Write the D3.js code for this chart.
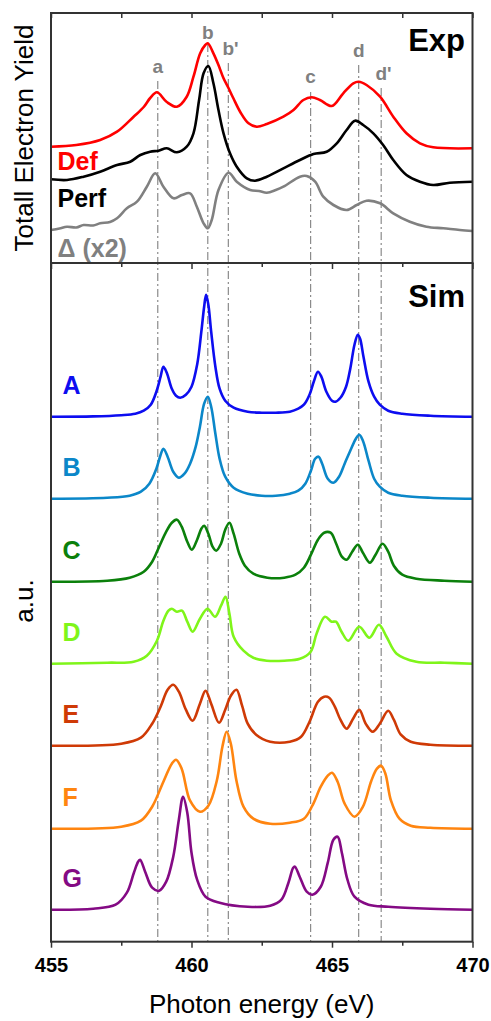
<!DOCTYPE html>
<html>
<head>
<meta charset="utf-8">
<script src="https://cdn.jsdelivr.net/npm/d3@7"></script>
<style>
  body { margin: 0; background: #fff; }
  text { font-family: Arial, "Liberation Sans", sans-serif; }
</style>
</head>
<body>
<svg id="chart" width="491" height="1021"></svg>
<script>
/**
 * Data: [photon energy (eV), intensity (a.u.)]
 */
const expDef = [[455,116.3],[455.9,118],[456.75,123],[457.35,131.3],[457.94,146.3],[458.3,156],[458.53,165],[458.77,170.7],[459.12,161],[459.48,156.3],[459.83,166.3],[460.07,186.3],[460.31,209.7],[460.49,218],[460.58,219.7],[460.78,209.7],[460.96,198],[461.14,184.7],[461.32,174.7],[461.49,164.7],[461.73,151.3],[462.03,139.7],[462.32,136.3],[462.68,139],[463.27,146.3],[463.63,153],[463.98,163],[464.28,165.7],[464.57,163],[464.99,157],[465.4,169.7],[465.76,179.7],[465.95,181.3],[466.23,178],[466.71,166.3],[467.18,146.3],[467.65,129.7],[468.13,119.7],[468.6,115.7],[470,114.7]];

const expPerf = [[455,83.7],[455.57,83],[456.16,86.3],[456.75,91.3],[457.35,98],[457.82,101.3],[458.18,108],[458.53,111.3],[458.83,112.3],[459.12,114.7],[459.48,110.7],[459.83,116.3],[460.07,129.7],[460.27,163],[460.43,189.7],[460.6,197],[460.78,179.7],[460.96,153],[461.14,129.7],[461.37,109.7],[461.61,96.3],[461.97,84.7],[462.26,82.3],[462.68,86.3],[463.27,94.7],[463.86,103],[464.34,109],[464.81,111.3],[465.17,119.7],[465.52,133],[465.82,142.3],[466.11,138],[466.47,129.7],[466.82,118],[467.18,103],[467.65,88],[468.13,81.3],[468.6,78],[469.19,80.3],[470,81.3]];

const expDiff = [[455,33],[455.3,34.5],[455.57,36.3],[455.9,35.5],[456.16,38],[456.5,37.5],[456.75,39.7],[457.1,41],[457.35,44.7],[457.7,54.7],[458.06,61.3],[458.41,76.3],[458.71,89.7],[459.0,76.3],[459.36,64.7],[459.66,68],[459.95,69.7],[460.19,56.3],[460.43,39.7],[460.58,34.7],[460.72,43],[460.96,73],[461.32,90.3],[461.61,81.3],[462.09,73],[462.4,72],[462.68,70.3],[463.0,73],[463.27,76.3],[463.86,86.3],[464.1,87],[464.4,81.3],[464.69,66.3],[465.05,58],[465.52,53],[465.88,58],[466.23,62.3],[466.71,59.7],[467.18,49.7],[467.77,41.3],[468.36,36.3],[468.96,34.7],[469.55,33],[470,32]];

const simA = [[455,0],[456.5,0.3],[457.5,1.5],[458,3],[458.3,6],[458.55,12],[458.75,25],[458.9,40],[459,50],[459.12,44],[459.3,28],[459.45,21],[459.6,19],[459.8,22],[460,30],[460.2,52],[460.35,85],[460.45,110],[460.52,122],[460.6,112],[460.7,85],[460.85,50],[461,28],[461.2,16],[461.5,9],[462,5],[462.5,4],[463,4],[463.5,5],[463.8,8],[464,12],[464.2,22],[464.35,35],[464.5,45],[464.62,40],[464.8,25],[465,16],[465.12,15],[465.3,19],[465.5,30],[465.65,48],[465.8,72],[465.92,82],[466,78],[466.12,60],[466.3,35],[466.5,20],[466.7,12],[467,6],[467.5,3],[468.5,1],[470,0]];

const simB = [[455,0],[457,1],[457.8,3],[458.2,7],[458.5,15],[458.75,30],[458.88,42],[459,50],[459.15,42],[459.35,27],[459.55,21],[459.75,25],[459.95,35],[460.15,52],[460.3,72],[460.45,95],[460.58,102],[460.7,92],[460.85,65],[461,40],[461.2,22],[461.5,11],[462,5],[462.5,3],[463,3],[463.5,5],[463.8,8],[464.05,15],[464.25,28],[464.4,40],[464.52,42],[464.65,35],[464.85,20],[465.05,16],[465.25,22],[465.45,35],[465.65,48],[465.85,60],[465.97,64],[466.1,58],[466.3,38],[466.5,20],[466.7,12],[467,6],[467.5,3],[468.5,1],[470,0]];

const simC = [[455,0],[457,1],[457.8,4],[458.3,10],[458.6,20],[458.85,35],[459.1,50],[459.3,59],[459.48,62],[459.65,55],[459.85,40],[460.01,32],[460.2,42],[460.35,53],[460.45,56],[460.6,48],[460.75,35],[460.88,31],[461.05,38],[461.2,52],[461.35,59],[461.5,48],[461.7,28],[461.9,16],[462.2,8],[462.7,4],[463.3,4],[463.7,7],[464,14],[464.25,27],[464.5,42],[464.72,49],[464.95,49],[465.15,38],[465.35,25],[465.52,22],[465.72,30],[465.92,37],[466.1,29],[466.35,19],[466.55,27],[466.8,38],[467,30],[467.2,16],[467.5,7],[468,3],[469,1],[470,0]];

const simD = [[455,0],[457,1],[457.94,2],[458.41,8],[458.77,23],[459,43],[459.18,53],[459.3,55],[459.48,52],[459.66,53],[459.85,42],[460.04,32],[460.3,45],[460.57,55],[460.84,47],[461.05,58],[461.21,67],[461.35,50],[461.5,27],[461.85,13],[462.2,6],[462.68,3],[463.3,3],[463.86,5],[464.24,12],[464.45,30],[464.75,47],[464.99,42],[465.14,42],[465.34,32],[465.58,23],[465.97,37],[466.33,26],[466.67,39],[466.94,27],[467.3,10],[468,2],[469,1],[470,0]];

const simE = [[455,0],[457.5,2],[458.2,8],[458.6,22],[458.9,39],[459.15,56],[459.35,61],[459.55,54],[459.8,36],[460.04,25],[460.3,42],[460.5,55],[460.7,42],[460.98,23],[461.2,36],[461.4,50],[461.6,56],[461.8,40],[462,22],[462.3,11],[462.8,4],[463.5,4],[463.9,9],[464.2,24],[464.5,44],[464.72,49],[464.9,48],[465.1,39],[465.3,26],[465.52,17],[465.75,27],[465.97,36],[466.2,22],[466.45,14],[466.7,22],[467,35],[467.2,26],[467.45,11],[467.8,4],[468.5,1],[470,0]];

const simF = [[455,0],[457.5,2],[458.2,8],[458.6,22],[459,47],[459.3,65],[459.45,69],[459.65,60],[459.95,28],[460.3,17],[460.6,23],[460.9,48],[461.1,82],[461.25,97],[461.4,85],[461.6,48],[461.85,22],[462.2,10],[462.8,5],[463.5,6],[464,10],[464.3,23],[464.6,42],[464.85,53],[465,56],[465.2,47],[465.45,25],[465.8,12],[466.1,22],[466.4,48],[466.6,60],[466.75,63],[466.9,55],[467.1,28],[467.4,10],[467.8,3],[468.5,1],[470,0]];

const simG = [[455,0],[456.5,1],[457.3,5],[457.7,17],[457.95,37],[458.1,48],[458.17,50],[458.35,38],[458.6,22],[458.85,19],[459.1,28],[459.35,53],[459.55,90],[459.7,113],[459.85,97],[460,57],[460.2,30],[460.5,13],[461,7],[462,3],[462.8,4],[463.2,10],[463.45,27],[463.62,42],[463.68,43],[463.85,33],[464.1,18],[464.3,15],[464.6,23],[464.85,47],[465.05,70],[465.2,73],[465.35,57],[465.55,30],[465.8,13],[466.3,5],[467,3],[468.5,1],[470,0]];

const simNames = ["A", "B", "C", "D", "E", "F", "G"];
const simOffsets = [525, 443, 360, 278, 196, 113, 32];
const simColors = ["#0d0df0", "#0b87c9", "#0b800b", "#7ff51a", "#cf3a06", "#ff8510", "#840a84"];

const featureNames = ["a", "b", "b'", "c", "d", "d'"];
const featureEnergies = [458.8, 460.58, 461.31, 464.24, 465.95, 466.75];

const xTicks = [455, 460, 465, 470];
const xMinorTicks = [457.5, 462.5, 467.5];

/**
 * Layout
 */
const svg = d3.select("#chart");
const left = 51, right = 472.5;
const topY = 13, midY = 263, botY = 941.7;

let x = d3.scaleLinear().domain([455, 470]).range([left, right]);
let yTop = d3.scaleLinear().domain([0, 250]).range([midY, topY]);
let yBot = d3.scaleLinear().domain([0, botY - midY]).range([botY, midY]);

// label baselines for the feature letters (px) and where each guide line starts
const featureLabelY = [73, 39, 55, 83, 57, 80];
const featureLineTop = [81, 44, 63, 92, 65, 88];

// dash-dot guide lines
featureEnergies.forEach((e, i) => {
    svg.append("line")
        .attr("x1", x(e)).attr("x2", x(e))
        .attr("y1", featureLineTop[i]).attr("y2", botY)
        .attr("stroke", "#808080")
        .attr("stroke-width", 1.1)
        .attr("stroke-dasharray", "8,3,2,3");
    let isPrime = featureNames[i].length > 1;
    svg.append("text")
        .attr("x", isPrime ? x(e) - 5.8 : x(e))
        .attr("y", featureLabelY[i])
        .attr("text-anchor", isPrime ? "start" : "middle")
        .attr("font-size", 19)
        .attr("font-weight", "bold")
        .attr("fill", "#808080")
        .text(featureNames[i]);
});

// smooth curve through the read points
const smooth = d3.curveCatmullRom.alpha(0.5);

// experimental spectra
const lineTop = d3.line()
    .x(d => x(d[0]))
    .y(d => yTop(d[1]))
    .curve(smooth);

[[expDef, "#ff0000"], [expPerf, "#000000"], [expDiff, "#808080"]].forEach(([data, color]) => {
    svg.append("path")
        .datum(data)
        .attr("fill", "none")
        .attr("stroke", color)
        .attr("stroke-width", 2.6)
        .attr("stroke-linejoin", "round")
        .attr("d", lineTop);
});

// simulated spectra, stacked
const simSeries = [simA, simB, simC, simD, simE, simF, simG];
simSeries.forEach((data, i) => {
    let off = simOffsets[i];
    svg.append("path")
        .datum(data)
        .attr("fill", "none")
        .attr("stroke", simColors[i])
        .attr("stroke-width", 2.6)
        .attr("stroke-linejoin", "round")
        .attr("d", d3.line()
            .x(d => x(d[0]))
            .y(d => yBot(d[1] + off))
            .curve(smooth));
    svg.append("text")
        .attr("x", 62.5)
        .attr("y", yBot(off) - 23)
        .attr("font-size", 25)
        .attr("font-weight", "bold")
        .attr("fill", simColors[i])
        .text(simNames[i]);
});

// experimental labels
const expLabels = [["Def", "#ff0000", 170], ["Perf", "#000000", 206.5], ["\u0394 (x2)", "#808080", 256.5]];
expLabels.forEach(([t, c, yy]) => {
    svg.append("text")
        .attr("x", 57.5).attr("y", yy)
        .attr("font-size", 25)
        .attr("font-weight", "bold")
        .attr("fill", c)
        .text(t);
});

svg.append("text").attr("x", 465).attr("y", 51)
    .attr("text-anchor", "end").attr("font-size", 31).attr("font-weight", "bold")
    .text("Exp");
svg.append("text").attr("x", 465).attr("y", 307)
    .attr("text-anchor", "end").attr("font-size", 31).attr("font-weight", "bold")
    .text("Sim");

// axes: ticks
const axisColor = "#333";
function styleAxis(g) {
    g.select(".domain").remove();
    g.selectAll(".tick line").attr("stroke", axisColor).attr("stroke-width", 1.5);
}

// top edge of Exp panel, ticks pointing in
svg.append("g").attr("transform", "translate(0," + topY + ")")
    .call(d3.axisTop(x).tickValues(xTicks.concat(xMinorTicks)).tickSize(-5).tickFormat(""))
    .call(styleAxis);

// shared middle edge, ticks pointing down
svg.append("g").attr("transform", "translate(0," + midY + ")")
    .call(d3.axisBottom(x).tickValues(xTicks).tickSize(6).tickFormat(""))
    .call(styleAxis);
svg.append("g").attr("transform", "translate(0," + midY + ")")
    .call(d3.axisBottom(x).tickValues(xMinorTicks).tickSize(4).tickFormat(""))
    .call(styleAxis);

// bottom axis
let xAxis = svg.append("g").attr("transform", "translate(0," + botY + ")")
    .call(d3.axisBottom(x).tickValues(xTicks).tickSize(6).tickPadding(10).tickFormat(d3.format("d")))
    .call(styleAxis);
xAxis.selectAll(".tick text")
    .attr("font-size", 20)
    .attr("font-weight", "bold")
    .attr("font-family", "Arial, 'Liberation Sans', sans-serif")
    .attr("fill", "#000");
svg.append("g").attr("transform", "translate(0," + botY + ")")
    .call(d3.axisBottom(x).tickValues(xMinorTicks).tickSize(4).tickFormat(""))
    .call(styleAxis);

// frames
[[topY, midY], [midY, botY]].forEach(([y0, y1]) => {
    svg.append("rect")
        .attr("x", left).attr("y", y0)
        .attr("width", right - left).attr("height", y1 - y0)
        .attr("fill", "none")
        .attr("stroke", axisColor)
        .attr("stroke-width", 2);
});

// axis titles
svg.append("text")
    .attr("transform", "translate(33," + ((topY + midY) / 2) + ") rotate(-90)")
    .attr("text-anchor", "middle")
    .attr("font-size", 26)
    .text("Totall Electron Yield");
svg.append("text")
    .attr("transform", "translate(33,601) rotate(-90)")
    .attr("text-anchor", "middle")
    .attr("font-size", 26)
    .text("a.u.");
svg.append("text")
    .attr("x", (left + right) / 2).attr("y", 1013)
    .attr("text-anchor", "middle")
    .attr("font-size", 26)
    .text("Photon energy (eV)");
</script>
</body>
</html>
